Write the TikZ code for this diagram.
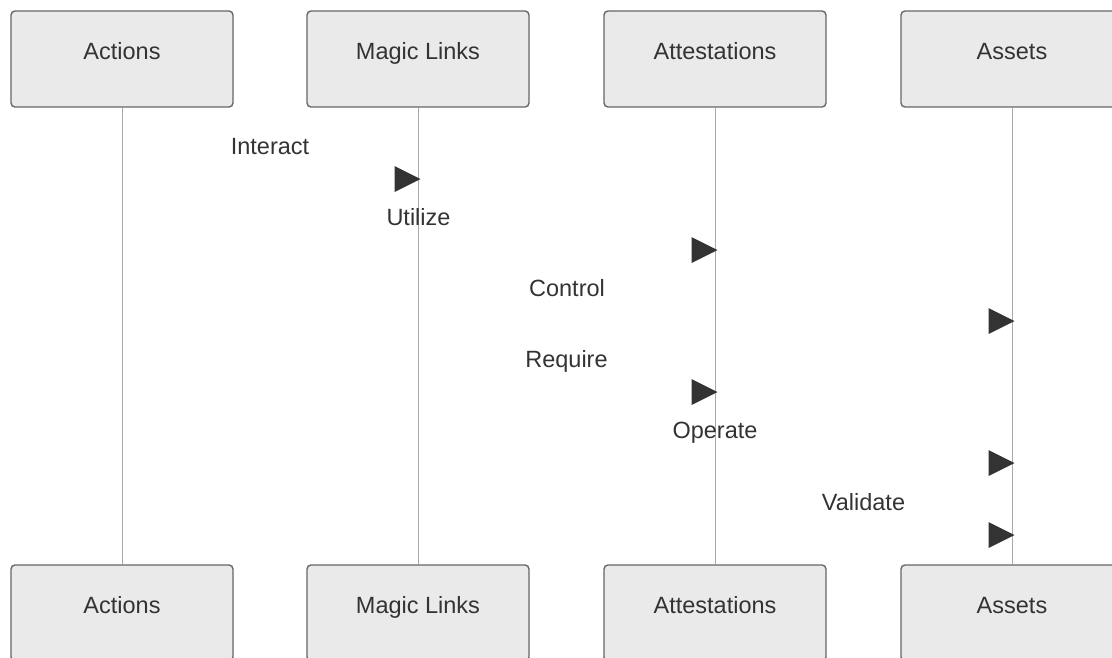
\documentclass[tikz,border=0pt]{standalone}
\usepackage{fontspec}
\setmainfont{Liberation Sans}
\usetikzlibrary{calc}
\definecolor{boxfill}{HTML}{EAEAEA}
\definecolor{boxline}{HTML}{666666}
\definecolor{ink}{HTML}{333333}
\definecolor{life}{HTML}{AAAAAA}
\tikzset{
  actorbox/.style={draw=boxline, line width=1.4pt, fill=boxfill, rounded corners=4pt,
    minimum width=222pt, minimum height=96pt, inner sep=0pt},
  actortext/.style={anchor=base, text=ink, inner sep=0pt, font=\fontsize{23.5}{28}\selectfont},
  msgtext/.style={anchor=base, text=ink, inner sep=0pt, font=\fontsize{23.5}{28}\selectfont},
  lifeline/.style={draw=life, line width=0.9pt},
  tiphead/.style={fill=ink, draw=none}
}
\begin{document}
\begin{tikzpicture}[x=1pt, y=-1pt]
  \useasboundingbox (0,0) rectangle (1112,657);
  % participants: top row and bottom row
  \foreach \n/\x/\t in {a/122/Actions, b/418/Magic Links, c/715/Attestations, d/1012/Assets} {
    \node[actorbox] (\n top) at (\x,59) {};
    \node[actortext] (\n toplabel) at ($(\n top.north)+(0,49.5)$) {\t};
    \node[actorbox] (\n bot) at (\x,613) {};
    \node[actortext] (\n botlabel) at ($(\n bot.north)+(0,49.5)$) {\t};
  }
  % lifelines
  \foreach \n in {a,b,c,d}
    \draw[lifeline] (\n top.south) -- (\n bot.north);
  % messages: arrowheads on the receiving lifeline, label centred between sender and receiver
  \foreach \k/\s/\r/\y/\t in {1/a/b/179/Interact, 2/a/c/250/Utilize, 3/a/d/321/Control,
                              4/b/c/392/Require, 5/b/d/463/Operate, 6/c/d/535/Validate} {
    \coordinate (from\k) at (\s top.south |- 0,\y);
    \coordinate (to\k) at (\r top.south |- 0,\y);
    \node[msgtext] (msg\k) at ($($(from\k)!0.5!(to\k)$)+(0,-24.6)$) {\t};
    \fill[tiphead] ($(to\k)+(2.5,0)$) -- ++(-26,-13) -- ++(0,26) -- cycle;
  }
\end{tikzpicture}
\end{document}
